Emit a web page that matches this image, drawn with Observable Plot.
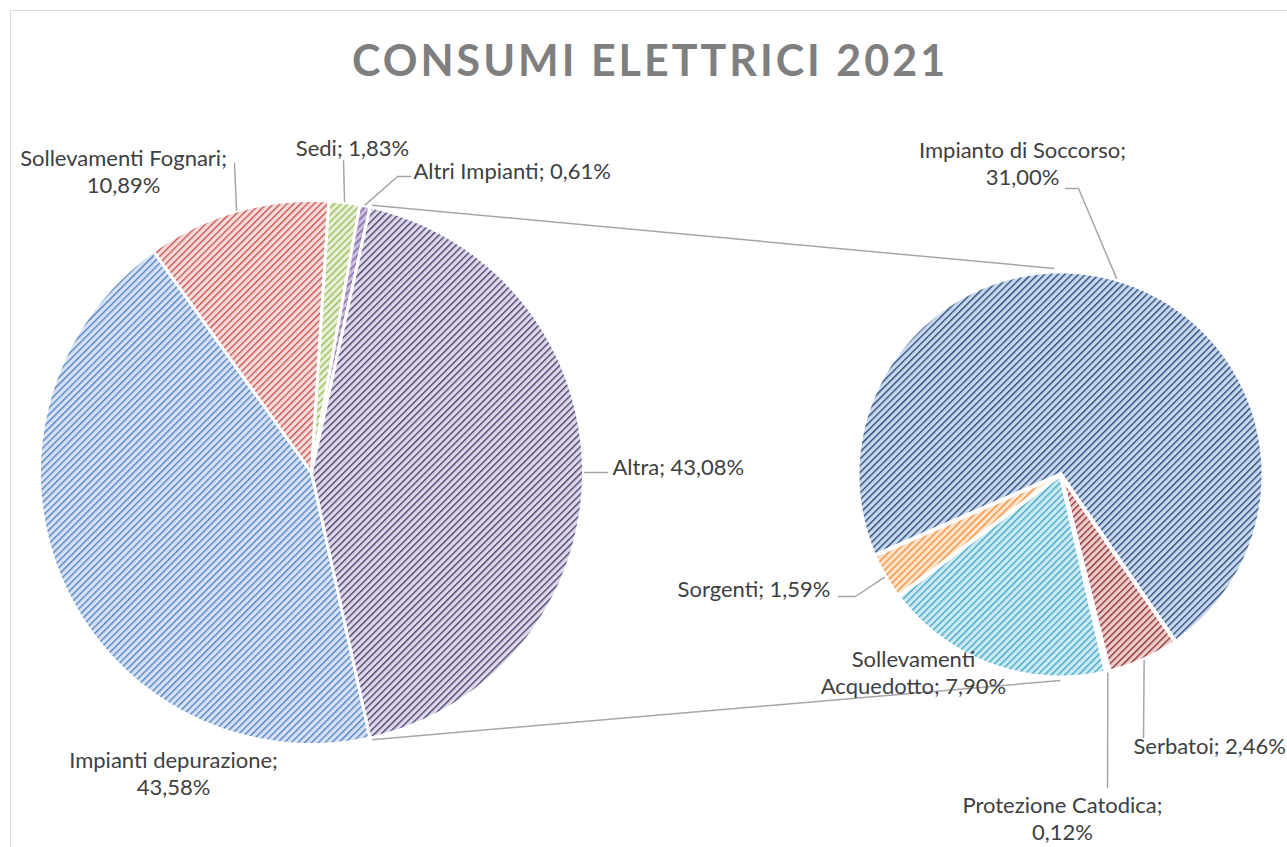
<!DOCTYPE html>
<html><head><meta charset="utf-8">
<script src="https://cdn.jsdelivr.net/npm/d3@7"></script>
<script src="https://cdn.jsdelivr.net/npm/@observablehq/plot@0.6"></script>
<style>
body{margin:0;background:#fff;}
#wrap{position:relative;width:1287px;height:847px;overflow:hidden;background:#fff;}
#frame{position:absolute;left:10px;top:10px;width:1400px;height:1000px;border:1.5px solid #d9d9d9;box-sizing:border-box;}
#title{position:absolute;left:0;top:38px;width:1300px;text-align:center;font-family:Lato,"Open Sans",sans-serif;font-weight:bold;font-size:43px;line-height:43px;color:#7f7f7f;letter-spacing:3px;}
#chart{position:absolute;left:0;top:0;}
</style></head><body>
<div id="wrap">
<div id="frame"></div>
<svg width="0" height="0" style="position:absolute"><defs id="defs"></defs></svg>
<div id="chart"></div>
<div id="title">CONSUMI ELETTRICI 2021</div>
</div>
<script>
// ---- data ----
const mainCategories = ["Impianti depurazione", "Sollevamenti Fognari", "Sedi", "Altri Impianti", "Altra"];
const mainValues = [43.58, 10.89, 1.83, 0.61, 43.08];
const mainLabels = ["Impianti depurazione;\n43,58%", "Sollevamenti Fognari;\n10,89%", "Sedi; 1,83%", "Altri Impianti; 0,61%", "Altra; 43,08%"];
const subCategories = ["Impianto di Soccorso", "Serbatoi", "Protezione Catodica", "Sollevamenti Acquedotto", "Sorgenti"];
const subValues = [31.00, 2.46, 0.12, 7.90, 1.59];
const subLabels = ["Impianto di Soccorso;\n31,00%", "Serbatoi; 2,46%", "Protezione Catodica;\n0,12%", "Sollevamenti\nAcquedotto; 7,90%", "Sorgenti; 1,59%"];
const titleText = "CONSUMI ELETTRICI 2021";

// ---- layout & style ----
const W = 1287, H = 847;
const mainPie = {cx: 311, cy: 472, r: 272};
const subPie = {cx: 1060, cy: 474, r: 203, start: 246.4};
const mainStyles = [
  {bg: "#d6e2f4", fg: "#4f81c4"},
  {bg: "#f4dcdb", fg: "#c9504d"},
  {bg: "#e8f0d8", fg: "#98bb55"},
  {bg: "#c9bddc", fg: "#7d62a8"},
  {bg: "#ddd8ea", fg: "#4b3d6e"}
];
const subStyles = [
  {bg: "#c8d8ee", fg: "#27487a"},
  {bg: "#ecccCC", fg: "#902d2d"},
  {bg: "#d7e4bd", fg: "#4f6228"},
  {bg: "#cdeaf2", fg: "#3fa6c4"},
  {bg: "#fde4cc", fg: "#f58b35"}
];
const mainLabelPos = [
  {x: 173, y: 772, anchor: "middle"},
  {x: 123, y: 170, anchor: "middle"},
  {x: 352, y: 147, anchor: "middle"},
  {x: 413, y: 170, anchor: "start"},
  {x: 612, y: 466, anchor: "start"}
];
const subLabelPos = [
  {x: 1022, y: 162, anchor: "middle"},
  {x: 1133, y: 745, anchor: "start"},
  {x: 1062, y: 817, anchor: "middle"},
  {x: 913, y: 671, anchor: "middle"},
  {x: 830, y: 588, anchor: "end"}
];
// leader label-side points (pie-side point comes from slice mid-angle); null = no leader
const mainLeaders = [null, [[234, 163]], [[343, 160]], [[410, 176], [397, 176]], [[607, 472]]];
const subLeaders = [[[1065, 188], [1078, 188]], [[1143, 737]], [[1107, 787]], null, [[838, 596], [855, 596]]];
const lineGray = "#a6a6a6";
const textColor = "#404040";
const font = "Lato, 'Open Sans', sans-serif";

// ---- patterns ----
const defs = d3.select("#defs");
function addPattern(id, s) {
  const p = defs.append("pattern").attr("id", id).attr("patternUnits", "userSpaceOnUse")
    .attr("width", 4.8).attr("height", 4.8).attr("patternTransform", "rotate(45)");
  p.append("rect").attr("width", 4.8).attr("height", 4.8).attr("fill", s.bg);
  p.append("rect").attr("width", 1.35).attr("height", 4.8).attr("fill", s.fg);
}
mainStyles.forEach((s, i) => addPattern("pm" + i, s));
subStyles.forEach((s, i) => addPattern("ps" + i, s));

// ---- geometry from values ----
function pt(pie, deg, rr = pie.r) {
  const a = deg * Math.PI / 180;
  return {x: pie.cx + rr * Math.sin(a), y: pie.cy - rr * Math.cos(a)};
}
function slices(pie, values, start) {
  const total = d3.sum(values);
  let a = start;
  return values.map((v, i) => {
    const span = v / total * 360;
    const a0 = a, a1 = a + span;
    a = a1;
    const pts = [{x: pie.cx, y: pie.cy}];
    const n = Math.max(2, Math.ceil(span));
    for (let k = 0; k <= n; k++) pts.push(pt(pie, a0 + span * k / n));
    return {i, a0, a1, mid: (a0 + a1) / 2, pts};
  });
}
const mainTotal = d3.sum(mainValues);
const otherSpan = mainValues[mainValues.length - 1] / mainTotal * 360;
const mainStart = 90 + otherSpan / 2;
const mainSlices = slices(mainPie, mainValues, mainStart);
const subSlices = slices(subPie, subValues, subPie.start);
const otherSlice = mainSlices[mainSlices.length - 1];

const marks = [];
mainSlices.forEach((s, i) => marks.push(Plot.line(s.pts, {x: "x", y: "y", fill: `url(#pm${i})`, stroke: "white", strokeWidth: 3, strokeLinejoin: "round", curve: "linear-closed"})));
subSlices.forEach((s, i) => marks.push(Plot.line(s.pts, {x: "x", y: "y", fill: `url(#ps${i})`, stroke: "white", strokeWidth: 4, strokeLinejoin: "round", curve: "linear-closed"})));

// connector lines between Altra and the second pie
const conn = [
  {p: pt(mainPie, otherSlice.a0 + 0.3, mainPie.r + 2), q: {x: subPie.cx - 6, y: subPie.cy - subPie.r - 3}},
  {p: pt(mainPie, otherSlice.a1 - 0.3, mainPie.r + 2), q: {x: subPie.cx, y: subPie.cy + subPie.r + 3}}
];
marks.push(Plot.link(conn, {x1: d => d.p.x, y1: d => d.p.y, x2: d => d.q.x, y2: d => d.q.y, stroke: lineGray, strokeWidth: 1.5}));

// leaders
const leaderPts = [];
function addLeaders(pie, sl, leaders, tag) {
  sl.forEach((s, i) => {
    if (!leaders[i]) return;
    leaders[i].forEach(p => leaderPts.push({k: tag + i, x: p[0], y: p[1]}));
    const e = pt(pie, s.mid, pie.r + 1);
    leaderPts.push({k: tag + i, x: e.x, y: e.y});
  });
}
addLeaders(mainPie, mainSlices, mainLeaders, "m");
addLeaders(subPie, subSlices, subLeaders, "s");
marks.push(Plot.line(leaderPts, {x: "x", y: "y", z: "k", stroke: lineGray, strokeWidth: 1.5}));

// labels
const labelRows = [
  ...mainLabels.map((t, i) => ({t, ...mainLabelPos[i]})),
  ...subLabels.map((t, i) => ({t, ...subLabelPos[i]}))
];
for (const anchor of ["start", "middle", "end"]) {
  marks.push(Plot.text(labelRows.filter(d => d.anchor === anchor), {
    x: "x", y: "y", text: "t", textAnchor: anchor, lineAnchor: "middle", lineHeight: 1.25,
    fontSize: 22, fill: textColor, fontFamily: font
  }));
}

const chart = Plot.plot({
  width: W, height: H, margin: 0,
  x: {domain: [0, W], range: [0, W], axis: null},
  y: {domain: [0, H], range: [0, H], axis: null},
  style: {background: "transparent", fontFamily: font, overflow: "visible"},
  marks
});
document.getElementById("chart").appendChild(chart);
document.getElementById("title").textContent = titleText;
</script>
</body></html>
